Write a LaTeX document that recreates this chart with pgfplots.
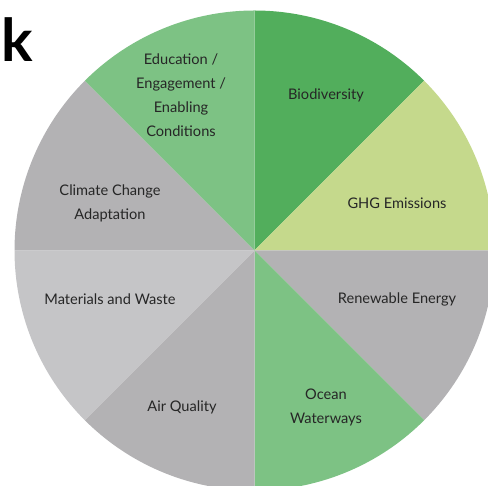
\documentclass[border=0pt]{standalone}
\usepackage{pgfplots}
\pgfplotsset{compat=1.18}
\usepackage{fontspec}
\setmainfont{Lato}
\definecolor{cBio}{RGB}{82,174,92}
\definecolor{cGreen}{RGB}{125,194,132}
\definecolor{cGHG}{RGB}{197,217,140}
\definecolor{cGray}{RGB}{179,178,180}
\definecolor{cLight}{RGB}{197,197,199}
% Eight equal shares (1 each) -> 45 degrees per slice, clockwise from the top
\newcommand{\cx}{254.5}
\newcommand{\cy}{235.5}
\newcommand{\R}{240}
\tikzset{lab/.style={font=\fontsize{14.6}{24}\selectfont, text=black!85, align=center, inner sep=0pt}}
\begin{document}
\begin{tikzpicture}
\begin{axis}[
  width=488pt, height=486pt, scale only axis,
  xmin=0, xmax=488, ymin=0, ymax=486,
  hide axis, clip=true,
]
% Biodiversity (share 1)
\addplot[draw=none, fill=cBio, domain=45:90, samples=60] ({\cx+\R*cos(x)},{\cy+\R*sin(x)}) -- (axis cs:\cx,\cy) -- cycle;
% GHG Emissions (share 1)
\addplot[draw=none, fill=cGHG, domain=0:45, samples=60] ({\cx+\R*cos(x)},{\cy+\R*sin(x)}) -- (axis cs:\cx,\cy) -- cycle;
% Renewable Energy (share 1)
\addplot[draw=none, fill=cGray, domain=-45:0, samples=60] ({\cx+\R*cos(x)},{\cy+\R*sin(x)}) -- (axis cs:\cx,\cy) -- cycle;
% Ocean Waterways (share 1)
\addplot[draw=none, fill=cGreen, domain=-90:-45, samples=60] ({\cx+\R*cos(x)},{\cy+\R*sin(x)}) -- (axis cs:\cx,\cy) -- cycle;
% Air Quality (share 1)
\addplot[draw=none, fill=cGray, domain=-135:-90, samples=60] ({\cx+\R*cos(x)},{\cy+\R*sin(x)}) -- (axis cs:\cx,\cy) -- cycle;
% Materials and Waste (share 1)
\addplot[draw=none, fill=cLight, domain=-180:-135, samples=60] ({\cx+\R*cos(x)},{\cy+\R*sin(x)}) -- (axis cs:\cx,\cy) -- cycle;
% Climate Change Adaptation (share 1)
\addplot[draw=none, fill=cGray, domain=135:180, samples=60] ({\cx+\R*cos(x)},{\cy+\R*sin(x)}) -- (axis cs:\cx,\cy) -- cycle;
% Education / Engagement / Enabling Conditions (share 1)
\addplot[draw=none, fill=cGreen, domain=90:135, samples=60] ({\cx+\R*cos(x)},{\cy+\R*sin(x)}) -- (axis cs:\cx,\cy) -- cycle;

\node[lab] at (axis cs:326,391) {Biodiversity};
\node[lab] at (axis cs:397,283) {GHG Emissions};
\node[lab] at (axis cs:397,187) {Renewable Energy};
\node[lab] at (axis cs:326,79) {Ocean\\Waterways};
\node[lab] at (axis cs:182,79) {Air Quality};
\node[lab] at (axis cs:110,187) {Materials and Waste};
\node[lab] at (axis cs:110,283) {Climate Change\\Adaptation};
\node[lab] at (axis cs:181,391) {Education /\\Engagement /\\Enabling\\Conditions};
\node[anchor=north west, inner sep=0pt, font=\fontsize{59}{59}\bfseries\selectfont, text=black] at (axis cs:1.5,469) {k};
\end{axis}
\pgfresetboundingbox
\useasboundingbox (current axis.south west) rectangle (current axis.north east);
\end{tikzpicture}
\end{document}
